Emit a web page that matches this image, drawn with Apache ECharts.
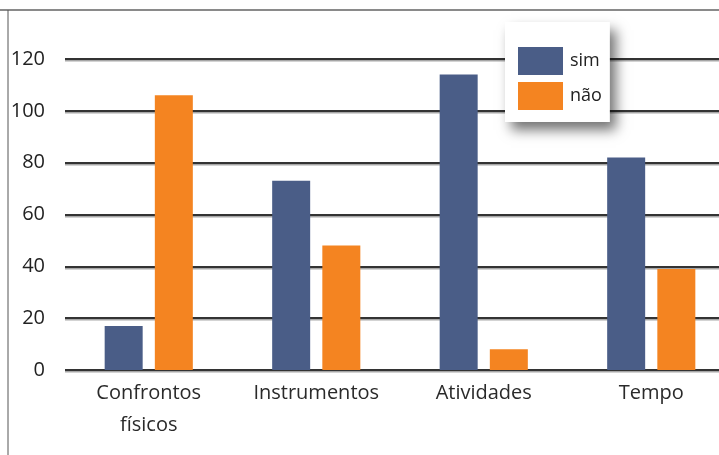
<!DOCTYPE html>
<html>
<head>
<meta charset="utf-8">
<script src="https://cdn.jsdelivr.net/npm/echarts@6/dist/echarts.min.js"></script>
<style>
  html, body { margin: 0; padding: 0; background: #fff; overflow: hidden; }
  /* the plot runs slightly past the right edge of the page */
  #chart { width: 740px; height: 455px; }
</style>
</head>
<body>
<div id="chart"></div>
<script>
// Categories and values
const categories = ['Confrontos\nfísicos', 'Instrumentos', 'Atividades', 'Tempo'];
const simValues = [17, 73, 114, 82];
const naoValues = [106, 48, 8, 39];
const yTicks = [0, 20, 40, 60, 80, 100, 120];

const FONT = '"Open Sans"';
const chart = echarts.init(document.getElementById('chart'), null, { renderer: 'canvas' });

chart.setOption({
  animation: false,
  backgroundColor: '#fff',
  textStyle: { fontFamily: FONT },
  grid: { left: 65, top: 59, width: 670, bottom: 85 },
  legend: {
    orient: 'vertical',
    left: 505,
    top: 22,
    padding: [25, 8, 12, 13],
    itemWidth: 45,
    itemHeight: 28,
    itemGap: 7,
    icon: 'rect',
    backgroundColor: '#fff',
    shadowColor: 'rgba(0,0,0,0.55)',
    shadowBlur: 12,
    shadowOffsetX: 6,
    shadowOffsetY: 8,
    textStyle: { fontFamily: FONT, fontSize: 18, color: '#222', padding: [0, 0, 0, 2] },
    data: ['sim', 'não']
  },
  xAxis: {
    type: 'category',
    data: categories,
    axisLine: { show: false },
    axisTick: { show: false },
    axisLabel: {
      fontFamily: FONT, fontSize: 20, color: '#2a2a2a',
      lineHeight: 32, margin: 7
    }
  },
  yAxis: {
    type: 'value',
    min: yTicks[0],
    max: yTicks[yTicks.length - 1],
    interval: 20,
    axisLine: { show: false },
    axisTick: { show: false },
    axisLabel: { fontFamily: FONT, fontSize: 20, color: '#222', margin: 20 },
    splitLine: {
      lineStyle: {
        color: '#333', width: 2,
        shadowColor: 'rgba(0,0,0,0.35)', shadowOffsetY: 1.5, shadowBlur: 0
      }
    }
  },
  series: [
    {
      name: 'sim', type: 'bar', data: simValues,
      barWidth: 38, barGap: '32%',
      itemStyle: { color: '#4a5d87' }
    },
    {
      name: 'não', type: 'bar', data: naoValues,
      barWidth: 38,
      itemStyle: { color: '#f48421' }
    }
  ],
  graphic: [
    { type: 'line', shape: { x1: 0, y1: 10, x2: 740, y2: 10 }, style: { stroke: '#8a8a8a', lineWidth: 2 } },
    { type: 'line', shape: { x1: 8, y1: 10, x2: 8, y2: 455 }, style: { stroke: '#555', lineWidth: 1 } }
  ]
});
</script>
</body>
</html>
